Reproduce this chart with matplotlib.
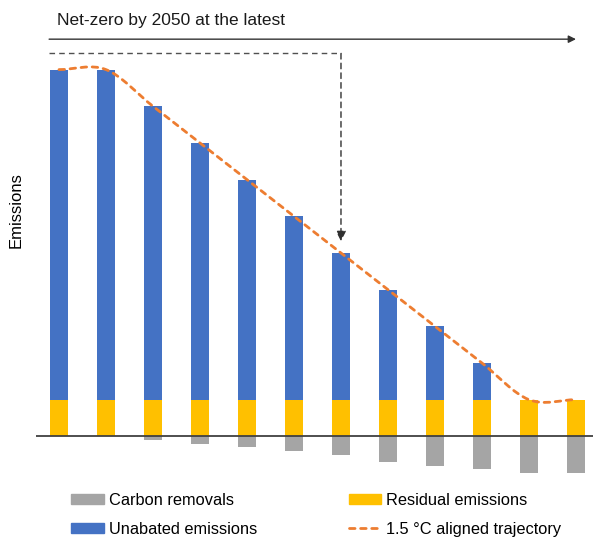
import numpy as np
import matplotlib
matplotlib.use("Agg")
import matplotlib.pyplot as plt
from matplotlib.path import Path
from matplotlib.patches import PathPatch, Patch
from matplotlib.lines import Line2D

plt.rcParams['font.family'] = ['Liberation Sans', 'DejaVu Sans']

# DATA (arbitrary emission units, one bar per step towards 2050)
steps = np.arange(12)
residual = [1, 1, 1, 1, 1, 1, 1, 1, 1, 1, 1, 1]
unabated = [9, 9, 8, 7, 6, 5, 4, 3, 2, 1, 0, 0]
removals = [0, 0, 0.1, 0.2, 0.3, 0.4, 0.5, 0.7, 0.8, 0.9, 1.0, 1.0]

# COLOURS
c_blue = '#4472C4'
c_yellow = '#FFC000'
c_grey = '#A5A5A5'
c_orange = '#ED7D31'

fig = plt.figure(figsize=(5.93, 5.40), dpi=100)
ax = fig.add_axes([36 / 593, 60 / 540, 557 / 593, 450 / 540])

width = 0.4
ax.bar(steps, residual, width, color=c_yellow, zorder=2)
ax.bar(steps, unabated, width, bottom=residual, color=c_blue, zorder=2)
ax.bar(steps, [-r for r in removals], width, color=c_grey, zorder=2)

# zero line
ax.axhline(0, color='#404040', lw=1.3, zorder=3)

# smoothed trajectory through the bar tops (Catmull-Rom as cubic Bezier)
tops = np.array(residual) + np.array(unabated)
pts = np.column_stack([steps, tops]).astype(float)
n = len(pts)
tang = np.zeros_like(pts)
tang[0] = pts[1] - pts[0]
tang[-1] = pts[-1] - pts[-2]
tang[1:-1] = (pts[2:] - pts[:-2]) / 2
verts = [pts[0]]
codes = [Path.MOVETO]
for i in range(n - 1):
    verts += [pts[i] + tang[i] / 3, pts[i + 1] - tang[i + 1] / 3, pts[i + 1]]
    codes += [Path.CURVE4] * 3
traj = PathPatch(Path(verts, codes), fill=False, edgecolor=c_orange, lw=2.0,
                 linestyle=(0, (2.0, 2.0)), capstyle='round', zorder=4)
ax.add_patch(traj)

ax.set_xlim(-0.489, 11.362)
ax.set_ylim(-1.19, 11.08)
ax.axis('off')

# timeline arrow
ax.annotate('', xy=(11.0, 10.83), xytext=(-0.21, 10.83),
            arrowprops=dict(arrowstyle='-|>', color='#333333', lw=1.0,
                            mutation_scale=11, shrinkA=0, shrinkB=0))
fig.text(57 / 593, 1 - 20 / 540, 'Net-zero by 2050 at the latest',
         fontsize=12.5, va='center', ha='left', color='#1a1a1a')

# dashed guide to the midpoint bar
ax.plot([-0.21, 6.0], [10.44, 10.44], color='#505050', lw=1.0,
        dashes=(4, 3), zorder=3)
ax.annotate('', xy=(6.0, 5.32), xytext=(6.0, 10.44),
            arrowprops=dict(arrowstyle='-|>', color='#303030', lw=1.0,
                            linestyle=(0, (4, 3)), mutation_scale=15,
                            shrinkA=0, shrinkB=0))

fig.text(16 / 593, 1 - 210 / 540, 'Emissions', rotation=90,
         fontsize=12, va='center', ha='center')

# legend
handles = [
    Patch(color=c_grey),
    Patch(color=c_blue),
    Patch(color=c_yellow),
    Line2D([0], [0], color=c_orange, lw=2.0, linestyle=(0, (2.0, 2.0)),
           dash_capstyle='round'),
]
labels = ['Carbon removals', 'Unabated emissions', 'Residual emissions',
          '1.5 °C aligned trajectory']
fig.legend(handles, labels, ncol=2, frameon=False, fontsize=11.8,
           loc='center left', bbox_to_anchor=(71 / 593, 1 - 515 / 540),
           borderpad=0, borderaxespad=0,
           handlelength=2.0, handleheight=0.6, handletextpad=0.3,
           columnspacing=5.6, labelspacing=0.85)

fig.savefig('out.png', dpi=100)
